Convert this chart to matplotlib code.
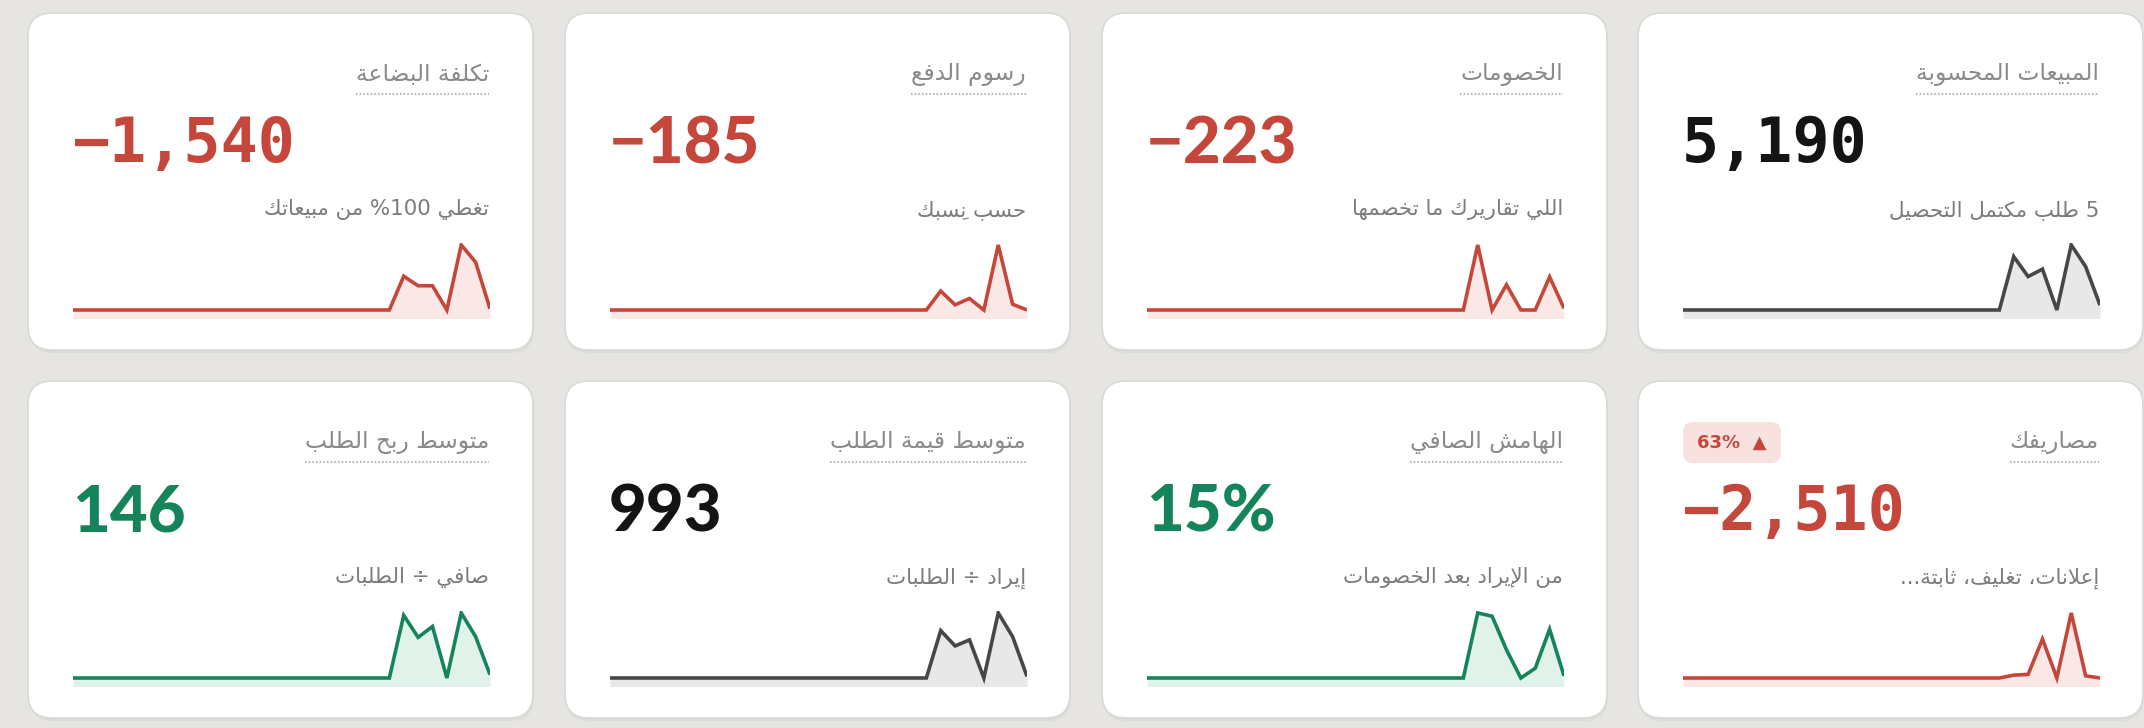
import re
import matplotlib
matplotlib.use("Agg")
import matplotlib.pyplot as plt
from matplotlib.patches import FancyBboxPatch

# card contents, reading order (right to left, top row first)
titles = ["المبيعات المحسوبة", "الخصومات", "رسوم الدفع", "تكلفة البضاعة",
          "مصاريفك", "الهامش الصافي", "متوسط قيمة الطلب", "متوسط ربح الطلب"]
values = ["5,190", "−223", "−185", "−1,540", "−2,510", "15%", "993", "146"]
notes = ["5 طلب مكتمل التحصيل", "اللي تقاريرك ما تخصمها", "حسب نِسبك",
         "تغطي 100% من مبيعاتك", "إعلانات، تغليف، ثابتة...",
         "من الإيراد بعد الخصومات", "إيراد ÷ الطلبات", "صافي ÷ الطلبات"]
tones = ["neutral", "neg", "neg", "neg", "neg", "pos", "neutral", "pos"]
badge_text = "63%  ▲"

# daily series for the sparklines (30 days)
sales = [0, 0, 0, 0, 0, 0, 0, 0, 0, 0, 0, 0, 0, 0, 0, 0, 0, 0, 0, 0, 0, 0,
         0, 1150, 720, 880, 0, 1400, 935, 105]
discounts = [0, 0, 0, 0, 0, 0, 0, 0, 0, 0, 0, 0, 0, 0, 0, 0, 0, 0, 0, 0, 0, 0,
             0, 116, 0, 45, 0, 0, 59, 3]
fees = [0, 0, 0, 0, 0, 0, 0, 0, 0, 0, 0, 0, 0, 0, 0, 0, 0, 0, 0, 0, 0, 0,
        0, 33, 9, 20, 0, 113, 10, 0]
cogs = [0, 0, 0, 0, 0, 0, 0, 0, 0, 0, 0, 0, 0, 0, 0, 0, 0, 0, 0, 0, 0, 0,
        0, 265, 190, 190, 0, 510, 375, 10]
expenses = [0, 0, 0, 0, 0, 0, 0, 0, 0, 0, 0, 0, 0, 0, 0, 0, 0, 0, 0, 0, 0, 0,
            0, 64, 80, 868, 0, 1450, 48, 0]
margin = [0, 0, 0, 0, 0, 0, 0, 0, 0, 0, 0, 0, 0, 0, 0, 0, 0, 0, 0, 0, 0, 0,
          0, 30, 28.5, 13, 0, 4.5, 22.5, 1]
aov = [0, 0, 0, 0, 0, 0, 0, 0, 0, 0, 0, 0, 0, 0, 0, 0, 0, 0, 0, 0, 0, 0,
       0, 1020, 690, 820, 0, 1400, 890, 35]
profit_per_order = [0, 0, 0, 0, 0, 0, 0, 0, 0, 0, 0, 0, 0, 0, 0, 0, 0, 0, 0, 0, 0, 0,
                    0, 185, 120, 152, 0, 192, 122, 10]
series = [sales, discounts, fees, cogs, expenses, margin, aov, profit_per_order]

colors = {"neutral": ("#141414", "#474747", "#e8e8e8"),
          "neg": ("#c5473b", "#c5473b", "#fae8e6"),
          "pos": ("#16845a", "#16845a", "#e0f2e9")}

# --- minimal arabic shaping + visual reordering (matplotlib draws LTR only)
DUAL = {'ئ': 0xFE89, 'ب': 0xFE8F, 'ت': 0xFE95, 'ث': 0xFE99, 'ج': 0xFE9D, 'ح': 0xFEA1,
        'خ': 0xFEA5, 'س': 0xFEB1, 'ش': 0xFEB5, 'ص': 0xFEB9, 'ض': 0xFEBD, 'ط': 0xFEC1,
        'ظ': 0xFEC5, 'ع': 0xFEC9, 'غ': 0xFECD, 'ف': 0xFED1, 'ق': 0xFED5, 'ك': 0xFED9,
        'ل': 0xFEDD, 'م': 0xFEE1, 'ن': 0xFEE5, 'ه': 0xFEE9, 'ي': 0xFEF1}
RIGHT = {'آ': 0xFE81, 'أ': 0xFE83, 'ؤ': 0xFE85, 'إ': 0xFE87, 'ا': 0xFE8D, 'ة': 0xFE93,
         'د': 0xFEA9, 'ذ': 0xFEAB, 'ر': 0xFEAD, 'ز': 0xFEAF, 'و': 0xFEED, 'ى': 0xFEEF}
LAMALEF = {'آ': 0xFEF5, 'أ': 0xFEF7, 'إ': 0xFEF9, 'ا': 0xFEFB}


def is_mark(c):
    return 0x064B <= ord(c) <= 0x065F


def arabic(text):
    # clusters: [letter, marks, kind]
    cl = []
    i = 0
    while i < len(text):
        c = text[i]
        if is_mark(c) and cl:
            cl[-1][1] += c
        elif c == 'ل' and i + 1 < len(text) and text[i + 1] in LAMALEF:
            cl.append([text[i + 1], "", "LA"])
            i += 1
        else:
            kind = "D" if c in DUAL else ("R" if c in RIGHT else "U")
            cl.append([c, "", kind])
        i += 1
    glyphs = []
    for k, (c, m, kind) in enumerate(cl):
        prev = cl[k - 1][2] if k > 0 else "U"
        nxt = cl[k + 1][2] if k + 1 < len(cl) else "U"
        jp = prev == "D" and kind != "U"
        jn = kind == "D" and nxt != "U"
        if kind == "LA":
            g = chr(LAMALEF[c] + (1 if prev == "D" else 0))
        elif kind == "R":
            g = chr(RIGHT[c] + (1 if jp else 0))
        elif kind == "D":
            off = 3 if (jp and jn) else 1 if jp else 2 if jn else 0
            g = chr(DUAL[c] + off)
        else:
            g = c
        # zero-width marks go first so they land on their base letter
        glyphs.append((m + g, bool(re.match(r"[0-9A-Za-z]", c))))
    # runs of ltr / rtl, reversed for display
    runs = []
    for g, ltr in glyphs:
        if runs and runs[-1][0] == ltr:
            runs[-1][1].append(g)
        else:
            runs.append([ltr, [g]])
    out = ""
    for ltr, gs in reversed(runs):
        out += "".join(gs if ltr else reversed(gs))
    return out


fig = plt.figure(figsize=(21.44, 7.28), dpi=100)
fig.patch.set_facecolor("#e6e5e1")
bg = fig.add_axes([0, 0, 1, 1])
bg.set_xlim(0, 2144)
bg.set_ylim(728, 0)
bg.axis("off")

card_x = [28, 565, 1102, 1638]
card_y = [13, 381]
cw, ch = 505, 337

title_texts = []
for i in range(8):
    row, col = i // 4, 3 - i % 4
    x0, y0 = card_x[col], card_y[row]
    fg, line_c, fill_c = colors[tones[i]]

    # soft shadow + card
    bg.add_patch(FancyBboxPatch((x0 + 1, y0 + 3), cw, ch, boxstyle="round,pad=0,rounding_size=24",
                                fc="#000000", ec="none", alpha=0.04, zorder=1))
    bg.add_patch(FancyBboxPatch((x0, y0), cw, ch, boxstyle="round,pad=0,rounding_size=24",
                                fc="white", ec="#d8d8d5", lw=1.2, zorder=2))

    right = x0 + 461
    t = bg.text(right, y0 + 61, arabic(titles[i]), ha="right", va="center",
                fontsize=16.8, color="#8a8a8a", family="DejaVu Sans", zorder=3)
    title_texts.append((t, y0 + 81))

    if "," in values[i]:
        bg.text(x0 + 44, y0 + 132, values[i], ha="left", va="center", fontsize=44.5,
                color=fg, family="DejaVu Sans Mono", weight="bold", zorder=3)
    else:
        bg.text(x0 + 44, y0 + 132, values[i], ha="left", va="center", fontsize=47,
                color=fg, family="Lato", weight="black", zorder=3)

    bg.text(right, y0 + 197, arabic(notes[i]), ha="right", va="center",
            fontsize=15.4, color="#7c7c7c", family="DejaVu Sans", zorder=3)

    if i == 4:
        bg.add_patch(FancyBboxPatch((x0 + 45, y0 + 41), 98, 41, boxstyle="round,pad=0,rounding_size=10",
                                    fc="#f7e2df", ec="none", zorder=3))
        bg.text(x0 + 94, y0 + 62, badge_text, ha="center", va="center", fontsize=13,
                color=fg, weight="bold", family="DejaVu Sans", zorder=4)

    # sparkline
    sx0, sx1 = x0 + 45, x0 + 462
    sy0, sy1 = y0 + 230, y0 + 305
    sp = fig.add_axes([sx0 / 2144, 1 - sy1 / 728, (sx1 - sx0) / 2144, (sy1 - sy0) / 728])
    sp.set_zorder(5)
    sp.patch.set_alpha(0)
    data = series[i]
    m = max(data)
    xs = range(len(data))
    sp.fill_between(xs, data, -m, color=fill_c, lw=0)
    sp.plot(xs, data, color=line_c, lw=2.6, solid_joinstyle="miter", solid_capstyle="butt")
    sp.set_xlim(0, len(data) - 1)
    sp.set_ylim(-0.123 * m, 1.03 * m)
    sp.axis("off")

# dotted underline under each title
fig.canvas.draw()
r = fig.canvas.get_renderer()
inv = bg.transData.inverted()
for t, yy in title_texts:
    bb = t.get_window_extent(r)
    xa = inv.transform((bb.x0, 0))[0]
    xb = inv.transform((bb.x1, 0))[0]
    bg.plot([xa, xb], [yy, yy], color="#9a9a9a", lw=1.1, ls=(0, (1, 1.4)), zorder=3)

fig.savefig("out.png", dpi=100, facecolor=fig.get_facecolor())
